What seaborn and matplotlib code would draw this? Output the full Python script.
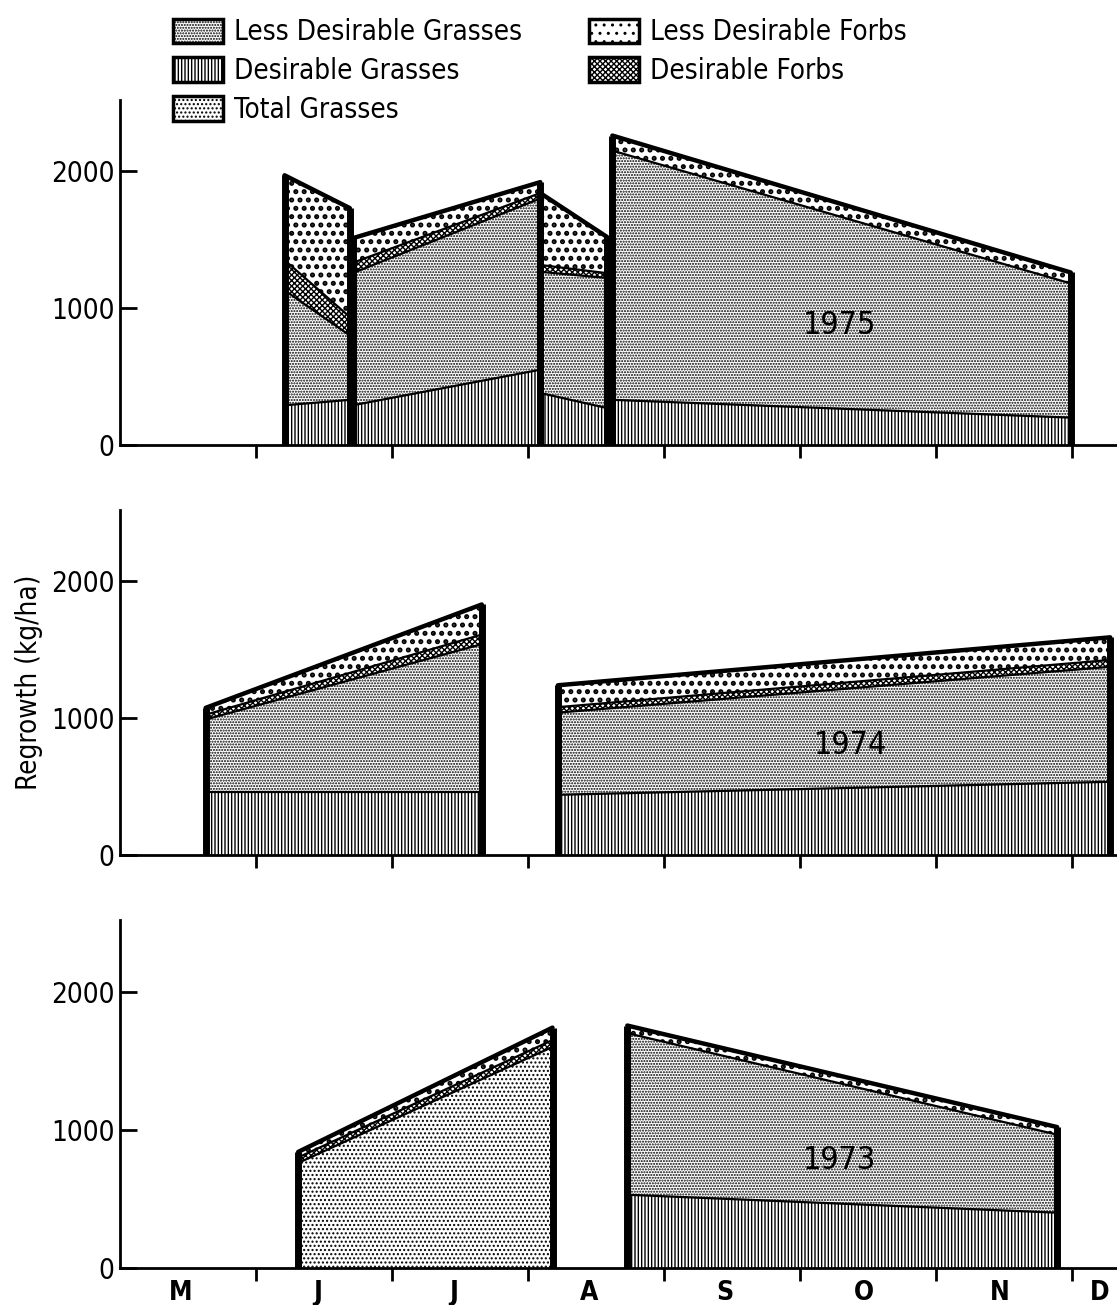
import numpy as np
import pandas as pd
import matplotlib
matplotlib.use("Agg")
import matplotlib.pyplot as plt
import seaborn as sns
from matplotlib.patches import Patch

sns.set_style("ticks")
plt.rcParams['font.family'] = ['DejaVu Sans']
plt.rcParams['font.stretch'] = 'condensed'
plt.rcParams['hatch.linewidth'] = 1.0
for k in ['text.color', 'axes.labelcolor', 'xtick.color', 'ytick.color', 'axes.edgecolor']:
    plt.rcParams[k] = 'black'

# ---------------- data ----------------
months = ["M", "J", "J", "A", "S", "O", "N", "D"]
month_label_pos = [0.45, 1.45, 2.45, 3.45, 4.45, 5.47, 6.47, 7.2]
month_bounds = [1, 2, 3, 4, 5, 6, 7]          # month boundaries (x = months since May 1)
yticks = [0, 1000, 2000]
years = ["1975", "1974", "1973"]

# segments: start / end dates (months since May 1)
x0_1975 = [1.21, 1.71, 3.09, 3.62]
x1_1975 = [1.69, 3.09, 3.58, 6.99]
x0_1974 = [0.63, 3.22]
x1_1974 = [2.66, 7.28]
x0_1973 = [1.31, 3.73]
x1_1973 = [3.18, 6.89]

# layer amounts (kg/ha) at segment start / end
dg0_1975 = [290, 290, 380, 330];   dg1_1975 = [330, 550, 270, 200]
tg0_1975 = [0, 0, 0, 0];           tg1_1975 = [0, 0, 0, 0]
ldg0_1975 = [840, 965, 885, 1820]; ldg1_1975 = [470, 1250, 950, 980]
df0_1975 = [220, 75, 50, 0];       df1_1975 = [135, 40, 35, 0]
ldf0_1975 = [620, 180, 525, 110];  ldf1_1975 = [795, 80, 265, 80]

dg0_1974 = [460, 440];   dg1_1974 = [460, 535]
tg0_1974 = [0, 0];       tg1_1974 = [0, 0]
ldg0_1974 = [530, 600];  ldg1_1974 = [1080, 840]
df0_1974 = [35, 40];     df1_1974 = [70, 50]
ldf0_1974 = [50, 160];   ldf1_1974 = [220, 165]

dg0_1973 = [0, 530];     dg1_1973 = [0, 400]
tg0_1973 = [760, 0];     tg1_1973 = [1600, 0]
ldg0_1973 = [0, 1170];   ldg1_1973 = [0, 565]
df0_1973 = [40, 0];      df1_1973 = [50, 0]
ldf0_1973 = [40, 55];    ldf1_1973 = [90, 55]

year_label_x = [5.29, 5.37, 5.29]
year_label_y = [875, 800, 780]

layers = ["Desirable Grasses", "Total Grasses", "Less Desirable Grasses",
          "Desirable Forbs", "Less Desirable Forbs"]
hatches = {"Less Desirable Grasses": "......",
           "Desirable Grasses": "|||||",
           "Total Grasses": "....",
           "Less Desirable Forbs": "..",
           "Desirable Forbs": "xxxxxx"}
hatch_lw = {"Less Desirable Grasses": 1.0,
            "Desirable Grasses": 1.0,
            "Total Grasses": 1.0,
            "Less Desirable Forbs": 2.4,
            "Desirable Forbs": 1.0}

data = {
    "1975": dict(x0=x0_1975, x1=x1_1975,
                 v0=[dg0_1975, tg0_1975, ldg0_1975, df0_1975, ldf0_1975],
                 v1=[dg1_1975, tg1_1975, ldg1_1975, df1_1975, ldf1_1975]),
    "1974": dict(x0=x0_1974, x1=x1_1974,
                 v0=[dg0_1974, tg0_1974, ldg0_1974, df0_1974, ldf0_1974],
                 v1=[dg1_1974, tg1_1974, ldg1_1974, df1_1974, ldf1_1974]),
    "1973": dict(x0=x0_1973, x1=x1_1973,
                 v0=[dg0_1973, tg0_1973, ldg0_1973, df0_1973, ldf0_1973],
                 v1=[dg1_1973, tg1_1973, ldg1_1973, df1_1973, ldf1_1973]),
}

# ---------------- figure ----------------
fig = plt.figure(figsize=(11.17, 13.05), dpi=100)
positions = [[0.1074, 0.659, 0.8926, 0.2644],
             [0.1074, 0.3448, 0.8926, 0.2644],
             [0.1074, 0.0284, 0.8926, 0.2667]]
axes = [fig.add_axes(p) for p in positions]

for ax, yr, lx, ly in zip(axes, years, year_label_x, year_label_y):
    d = data[yr]
    for s in range(len(d["x0"])):
        xs = np.array([d["x0"][s], d["x1"][s]])
        base = np.zeros(2)
        for li, name in enumerate(layers):
            amt = np.array([d["v0"][li][s], d["v1"][li][s]], dtype=float)
            if amt.max() <= 0:
                continue
            top = base + amt
            with plt.rc_context({'hatch.linewidth': hatch_lw[name]}):
                ax.fill_between(xs, base, top, facecolor="white", edgecolor="black",
                                hatch=hatches[name], linewidth=0, zorder=2)
            df_line = pd.DataFrame({"x": xs, "y": top})
            last = li == len(layers) - 1 or all(
                max(d["v0"][k][s], d["v1"][k][s]) <= 0 for k in range(li + 1, len(layers)))
            sns.lineplot(data=df_line, x="x", y="y", ax=ax, color="black",
                         linewidth=3.2 if last else 1.6, legend=False, zorder=4)
            base = top
        # vertical edges
        ax.vlines(xs, [0, 0], base, colors="black", linewidth=5, zorder=5)
    ax.text(lx, ly, yr, fontsize=23, ha="center", va="center", zorder=6)

    ax.set_xlim(0, 7.33)
    ax.set_ylim(0, 2520)
    ax.set_xlabel("")
    ax.set_ylabel("")
    ax.set_xticks(month_bounds)
    ax.set_xticklabels([])
    ax.set_yticks(yticks)
    ax.set_yticklabels([str(v) for v in yticks], fontsize=20)
    ax.tick_params(axis="x", which="major", direction="out", length=9, width=2)
    ax.tick_params(axis="y", which="major", direction="in", length=12, width=2, pad=4)
    for sp in ["top", "right"]:
        ax.spines[sp].set_visible(False)
    for sp in ["left", "bottom"]:
        ax.spines[sp].set_linewidth(2)

axes[2].set_xticks(month_label_pos, minor=True)
axes[2].set_xticklabels(months, minor=True, fontsize=19, fontweight="bold")
axes[2].tick_params(axis="x", which="minor", length=0, pad=9)

axes[1].set_ylabel("Regrowth (kg/ha)", fontsize=20, labelpad=6)

handles = []
for n in ["Less Desirable Grasses", "Desirable Grasses", "Total Grasses",
          "Less Desirable Forbs", "Desirable Forbs"]:
    with plt.rc_context({'hatch.linewidth': hatch_lw[n]}):
        handles.append(Patch(facecolor="white", edgecolor="black", hatch=hatches[n],
                             linewidth=2.5, label=n))
fig.legend(handles=handles, loc="upper left", bbox_to_anchor=(0.1328, 1.005), ncol=2,
           frameon=False, fontsize=20, handlelength=1.8, handleheight=1.0,
           labelspacing=0.38, columnspacing=2.4, handletextpad=0.4)

fig.savefig("out.png", dpi=100)
